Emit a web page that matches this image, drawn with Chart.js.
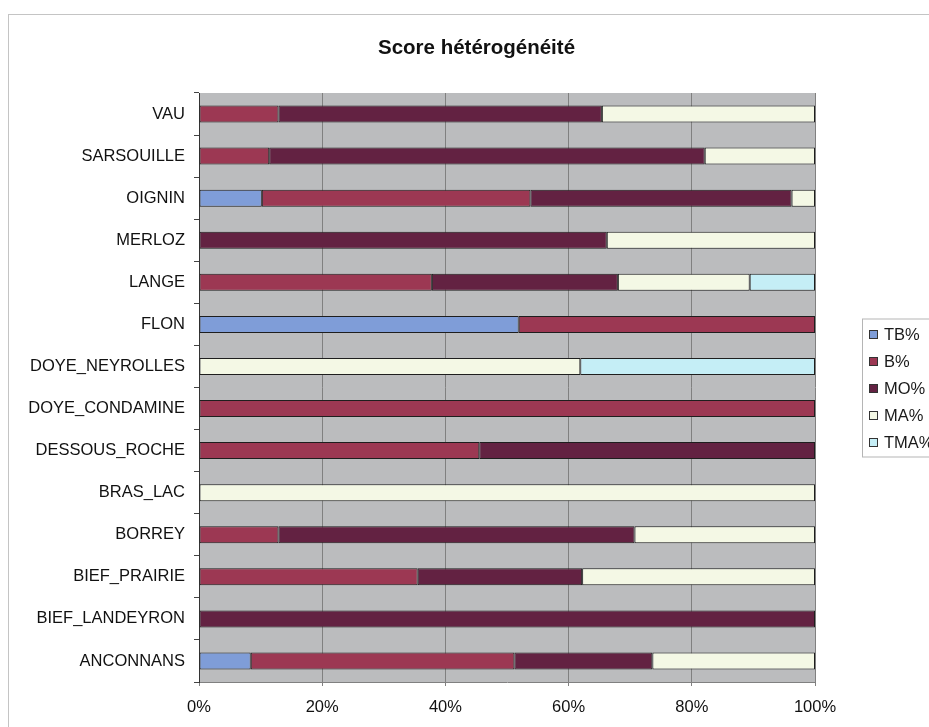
<!DOCTYPE html>
<html>
<head>
<meta charset="utf-8">
<script src="https://cdn.jsdelivr.net/npm/chart.js@4/dist/chart.umd.min.js"></script>
<style>
  html, body { margin: 0; padding: 0; background: #fff; overflow: hidden; }
  #frame {
    position: absolute; left: 8px; top: 14px;
    width: 935px; height: 730px;
    border-left: 1px solid #c4c4c4; border-top: 1px solid #c4c4c4;
  }
  #chart { display: block; }
</style>
</head>
<body>
<div id="frame"><canvas id="chart" width="935" height="712"></canvas></div>
<script>
const chartTitle = "Score hétérogénéité";
const categories = [
    "VAU", "SARSOUILLE", "OIGNIN", "MERLOZ", "LANGE", "FLON", "DOYE_NEYROLLES",
    "DOYE_CONDAMINE", "DESSOUS_ROCHE", "BRAS_LAC", "BORREY", "BIEF_PRAIRIE",
    "BIEF_LANDEYRON", "ANCONNANS"
];
const tbValues  = [0, 0, 10.2, 0, 0, 51.9, 0, 0, 0, 0, 0, 0, 0, 8.4];
const bValues   = [12.9, 11.4, 43.6, 0, 37.8, 48.1, 0, 100, 45.5, 0, 12.9, 35.5, 0, 42.8];
const moValues  = [52.5, 70.7, 42.4, 66.2, 30.2, 0, 0, 0, 54.5, 0, 57.8, 26.7, 100, 22.4];
const maValues  = [34.6, 17.9, 3.8, 33.8, 21.4, 0, 61.9, 0, 0, 100, 29.3, 37.8, 0, 26.4];
const tmaValues = [0, 0, 0, 0, 10.6, 0, 38.1, 0, 0, 0, 0, 0, 0, 0];
const xTicks = [0, 20, 40, 60, 80, 100];

const FONT = "'Liberation Sans', Arial, sans-serif";

function series(label, data, color) {
    return {
        label,
        data,
        backgroundColor: color,
        borderColor: "#1e1e1e",
        borderWidth: 1,
        borderSkipped: false,
        barPercentage: 0.8,
        categoryPercentage: 0.505
    };
}

// grey plot area like the old Excel style
const plotBackground = {
    id: "plotBackground",
    beforeDraw(chart) {
        const { ctx, chartArea: a } = chart;
        ctx.save();
        ctx.fillStyle = "#bbbcbe";
        ctx.fillRect(a.left, a.top, a.right - a.left, a.bottom - a.top);
        ctx.restore();
    }
};

// title centred on the whole chart object, not on the plot
const centredTitle = {
    id: "centredTitle",
    afterDraw(chart) {
        const ctx = chart.ctx;
        ctx.save();
        ctx.font = "bold 20.5px " + FONT;
        ctx.fillStyle = "#111";
        ctx.textAlign = "center";
        ctx.textBaseline = "middle";
        ctx.fillText(chartTitle, chart.width / 2, 33);
        ctx.restore();
    }
};

// boxed legend, vertically centred on the plot, cut by the page edge
const boxLegend = {
    id: "boxLegend",
    afterDraw(chart) {
        const { ctx, chartArea: a } = chart;
        const sets = chart.data.datasets;
        const rowH = 27;
        const left = a.right + 47;
        const midY = (a.top + a.bottom) / 2;
        const firstY = midY - rowH * (sets.length - 1) / 2;
        ctx.save();
        ctx.strokeStyle = "#b5b5b5";
        ctx.lineWidth = 1;
        ctx.strokeRect(left + 0.5, firstY - 14.5, 200, rowH * (sets.length - 1) + 30);
        ctx.font = "16.5px " + FONT;
        ctx.textBaseline = "middle";
        sets.forEach((ds, i) => {
            const y = Math.round(firstY + i * rowH);
            ctx.fillStyle = ds.backgroundColor;
            ctx.fillRect(left + 7.5, y - 3.5, 8, 8);
            ctx.strokeStyle = "#333";
            ctx.strokeRect(left + 7.5, y - 3.5, 8, 8);
            ctx.fillStyle = "#1a1a1a";
            ctx.fillText(ds.label, left + 22, y + 1);
        });
        ctx.restore();
    }
};

new Chart(document.getElementById("chart"), {
    type: "bar",
    data: {
        labels: categories,
        datasets: [
            series("TB%", tbValues, "#7f9dd8"),
            series("B%", bValues, "#9c3853"),
            series("MO%", moValues, "#632242"),
            series("MA%", maValues, "#f4f8e5"),
            series("TMA%", tmaValues, "#c5eef6")
        ]
    },
    plugins: [plotBackground, centredTitle, boxLegend],
    options: {
        indexAxis: "y",
        responsive: false,
        animation: false,
        layout: {
            padding: { left: 0, right: 129, top: 78, bottom: 0 }
        },
        plugins: {
            legend: { display: false },
            tooltip: { enabled: false },
            title: { display: false }
        },
        scales: {
            x: {
                stacked: true,
                min: 0,
                max: 100,
                afterBuildTicks(scale) {
                    scale.ticks = xTicks.map(v => ({ value: v }));
                },
                afterFit(scale) {
                    scale.height = 45;
                },
                grid: {
                    color: "#808080",
                    lineWidth: 1,
                    tickLength: 4
                },
                border: { display: true, color: "#808080" },
                ticks: {
                    padding: 12,
                    color: "#111",
                    font: { family: FONT, size: 16.5 },
                    callback: v => v + "%"
                }
            },
            y: {
                stacked: true,
                afterFit(scale) {
                    scale.width = 190;
                },
                grid: {
                    drawOnChartArea: false,
                    color: "#444",
                    tickLength: 5
                },
                border: { display: true, color: "#333" },
                ticks: {
                    padding: 9,
                    color: "#111",
                    font: { family: FONT, size: 16.5 }
                }
            }
        }
    }
});
</script>
</body>
</html>
